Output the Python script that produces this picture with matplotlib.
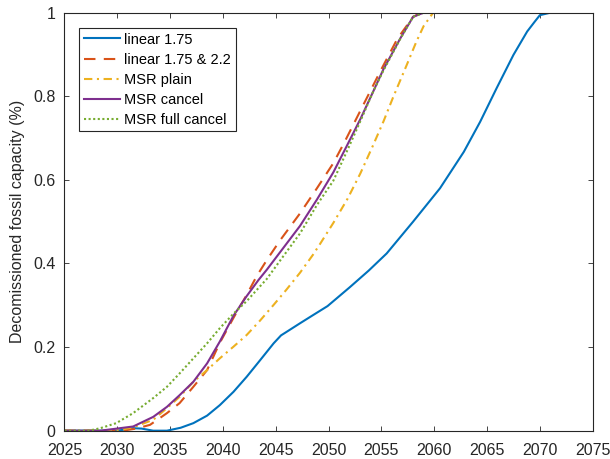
import matplotlib.pyplot as plt
import numpy as np

plt.rcParams["font.family"] = ["Liberation Sans", "DejaVu Sans"]

# linear 1.75
lin_x = [2025, 2030, 2030.8, 2031.5, 2032.3, 2033.4, 2034.7, 2036, 2037.2, 2038.5,
         2039.7, 2041, 2042.25, 2043.5, 2044.8, 2045.5, 2046, 2047.3, 2048.5, 2049.9,
         2052, 2053.8, 2055.5, 2058, 2060.55, 2062.8, 2064.35, 2065.9, 2067.5, 2068.8,
         2069.5, 2070, 2071, 2075]
lin_y = [0, 0, 0.003, 0.006, 0.005, 0.0, 0.0, 0.007, 0.018, 0.036,
         0.061, 0.093, 0.129, 0.168, 0.209, 0.228, 0.236, 0.257, 0.276, 0.298,
         0.343, 0.383, 0.424, 0.5, 0.58, 0.667, 0.739, 0.819, 0.899, 0.955,
         0.978, 0.994, 1, 1]

# linear 1.75 & 2.2
lin2_x = [2025, 2030.5, 2031.8, 2033.1, 2034.7, 2035.9, 2037.2, 2038.5, 2039.7, 2041,
          2042.25, 2043.2, 2044.15, 2045.4, 2047.3, 2048.9, 2050.45, 2051.5, 2052.7,
          2054, 2054.9, 2056.5, 2058, 2058.8, 2075]
lin2_y = [0, 0, 0.005, 0.014, 0.042, 0.066, 0.105, 0.145, 0.21, 0.27,
          0.325, 0.37, 0.408, 0.455, 0.52, 0.58, 0.64, 0.69, 0.75,
          0.815, 0.86, 0.937, 0.99, 1, 1]

# MSR plain
msr_x = [2025, 2029.5, 2030.5, 2031.5, 2033.4, 2034.7, 2035.9, 2037.2, 2038.5, 2039.7,
         2041, 2042.25, 2043.5, 2044.8, 2046, 2047.3, 2048.5, 2049.2, 2050.45, 2051.8,
         2053, 2054.2, 2055.2, 2056.1, 2057.4, 2058.3, 2059, 2059.9, 2075]
msr_y = [0, 0, 0.003, 0.008, 0.026, 0.054, 0.081, 0.117, 0.145, 0.173,
         0.201, 0.229, 0.263, 0.301, 0.337, 0.378, 0.42, 0.447, 0.497, 0.555,
         0.615, 0.682, 0.74, 0.797, 0.875, 0.93, 0.968, 1, 1]

# MSR cancel
canc_x = [2025, 2028.4, 2031.5, 2033.4, 2034.7, 2035.9, 2037.2, 2038.5, 2039.7, 2041,
          2042.25, 2043.35, 2044.15, 2045.5, 2047.3, 2048.9, 2050.45, 2051.7, 2053,
          2054.2, 2055.2, 2056.8, 2058, 2059, 2075]
canc_y = [0, 0, 0.01, 0.033, 0.057, 0.085, 0.117, 0.161, 0.213, 0.275,
          0.322, 0.36, 0.385, 0.43, 0.49, 0.553, 0.618, 0.68, 0.745,
          0.81, 0.865, 0.939, 0.99, 1, 1]

# MSR full cancel
full_x = [2025, 2027.3, 2028.4, 2029.9, 2031.5, 2033.4, 2034.7, 2035.9, 2037.2, 2038.5,
          2039.7, 2041, 2042.25, 2043.5, 2044.15, 2045.5, 2047.3, 2048.9, 2050.45,
          2051.8, 2053, 2054.2, 2055.2, 2056.8, 2058, 2059, 2075]
full_y = [0, 0, 0.006, 0.018, 0.042, 0.078, 0.105, 0.137, 0.173, 0.209,
          0.245, 0.28, 0.31, 0.345, 0.363, 0.41, 0.472, 0.54, 0.598,
          0.672, 0.74, 0.81, 0.862, 0.938, 0.99, 1, 1]

fig = plt.figure(figsize=(6.1, 4.59), dpi=100)
ax = fig.add_axes([0.1057, 0.0617, 0.8659, 0.9107])

lw = 1.5
ax.plot(lin_x, lin_y, color="#0072BD", lw=lw, label="linear 1.75")
ax.plot(lin2_x, lin2_y, color="#D95319", lw=lw, dashes=(5.5, 4), label="linear 1.75 & 2.2")
ax.plot(msr_x, msr_y, color="#EDB120", lw=lw, dashes=(4, 2.2, 1, 2.2), label="MSR plain")
ax.plot(canc_x, canc_y, color="#7E2F8E", lw=lw, label="MSR cancel")
ax.plot(full_x, full_y, color="#77AC30", lw=lw, linestyle=(0, (1, 1.2)), label="MSR full cancel")

ax.set_xlim(2025, 2075)
ax.set_ylim(0, 1)
ax.set_xticks(np.arange(2025, 2076, 5))
ax.set_yticks([0, 0.2, 0.4, 0.6, 0.8, 1])
ax.set_yticklabels(["0", "0.2", "0.4", "0.6", "0.8", "1"])
ax.set_ylabel("Decomissioned fossil capacity (%)", fontsize=11.5, color="#262626", labelpad=6)

ax.tick_params(direction="in", top=True, right=True, length=3.5, width=0.6,
               labelsize=11.5, colors="#262626")
ax.tick_params(axis="x", pad=9)
ax.tick_params(axis="y", pad=6.5)
for s in ax.spines.values():
    s.set_color("#262626")
    s.set_linewidth(0.8)

leg = ax.legend(loc="upper left", bbox_to_anchor=(0.028, 0.963), fontsize=10.5,
                fancybox=False, framealpha=1, handlelength=2.5, handletextpad=0.3,
                borderpad=0.3, labelspacing=0.42, borderaxespad=0)
leg.get_frame().set_edgecolor("#262626")
leg.get_frame().set_linewidth(0.8)

fig.savefig("out.png", dpi=100)
